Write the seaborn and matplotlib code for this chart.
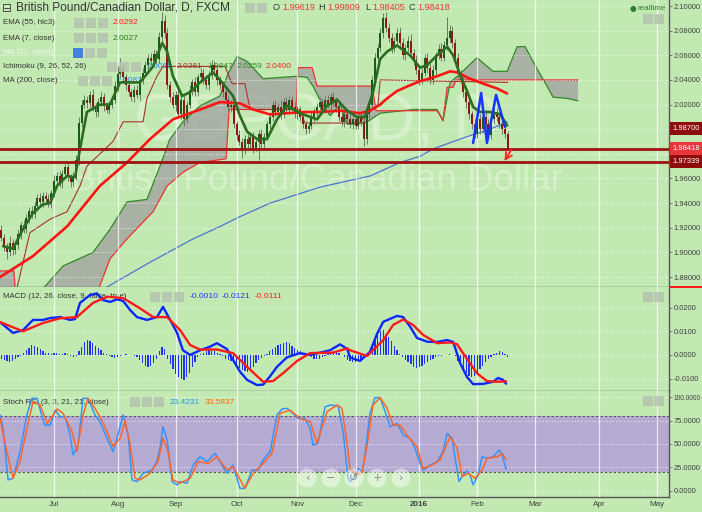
import numpy as np
import pandas as pd
import seaborn as sns
import matplotlib.pyplot as plt
from matplotlib.patches import Rectangle, Circle
from matplotlib.transforms import IdentityTransform

# ---------------- data ----------------
# daily GBP/CAD candles on the business-day axis, bar 3 (4 Jun 2015) .. bar 186 (16 Feb 2016)
first_bar = 3
first_open = 1.918
closes = [
    1.912, 1.905, 1.900, 1.908, 1.902, 1.906, 1.915, 1.922, 1.919, 1.928,
    1.934, 1.931, 1.938, 1.944, 1.941, 1.946, 1.943, 1.940, 1.948, 1.958,
    1.962, 1.956, 1.964, 1.969, 1.961, 1.957, 1.962, 1.975, 2.005, 2.020,
    2.024, 2.021, 2.028, 2.018, 2.014, 2.022, 2.026, 2.019, 2.016, 2.020,
    2.024, 2.035, 2.045, 2.050, 2.042, 2.036, 2.030, 2.026, 2.032, 2.028,
    2.040, 2.046, 2.052, 2.058, 2.055, 2.061, 2.057, 2.075, 2.088, 2.078,
    2.036, 2.026, 2.020, 2.028, 2.012, 2.024, 2.008, 2.020, 2.032, 2.038,
    2.030, 2.042, 2.046, 2.040, 2.036, 2.044, 2.052, 2.048, 2.040, 2.036,
    2.030, 2.024, 2.018, 2.020, 2.004, 1.995, 1.990, 1.983, 1.992, 1.988,
    1.994, 1.985, 1.990, 1.996, 1.988, 1.994, 2.004, 2.010, 2.020, 2.014,
    2.018, 2.012, 2.022, 2.016, 2.024, 2.018, 2.012, 2.016, 2.010, 2.004,
    2.000, 2.003, 2.010, 2.014, 2.018, 2.022, 2.016, 2.024, 2.020, 2.026,
    2.022, 2.018, 2.010, 2.006, 2.012, 2.008, 2.004, 2.008, 2.003, 2.010,
    2.006, 1.992, 2.012, 2.020, 2.040, 2.058, 2.066, 2.078, 2.090, 2.082,
    2.074, 2.066, 2.072, 2.078, 2.070, 2.060, 2.066, 2.072, 2.062, 2.056,
    2.048, 2.040, 2.046, 2.058, 2.050, 2.040, 2.048, 2.060, 2.065, 2.058,
    2.068, 2.074, 2.080, 2.070, 2.058, 2.045, 2.040, 2.030, 2.022, 2.012,
    2.004, 1.996, 2.008, 2.000, 2.010, 2.004, 1.995, 2.008, 2.014, 2.010,
    2.004, 2.000, 1.99619, 1.98418,
]
# wick lengths above / below the body, in thousandths
upper_wick = [
    4, 3, 3, 5, 3, 3, 4, 3, 4, 3,
    3, 4, 3, 3, 4, 3, 3, 4, 3, 5,
    3, 4, 3, 3, 4, 3, 3, 4, 5, 4,
    4, 3, 3, 5, 3, 3, 4, 3, 3, 3,
    3, 4, 6, 8, 4, 3, 4, 3, 3, 4,
    3, 4, 3, 3, 4, 3, 3, 4, 7, 5,
    4, 3, 4, 3, 5, 3, 4, 3, 4, 3,
    4, 3, 4, 3, 4, 3, 4, 3, 4, 3,
    3, 4, 3, 4, 3, 3, 4, 3, 3, 4,
    3, 4, 3, 3, 4, 3, 3, 4, 3, 4,
    3, 6, 3, 4, 3, 3, 4, 3, 3, 4,
    3, 3, 4, 3, 3, 4, 3, 3, 4, 3,
    4, 3, 3, 4, 3, 3, 4, 3, 3, 4,
    3, 4, 3, 4, 3, 4, 3, 4, 4, 5,
    4, 4, 3, 4, 5, 4, 3, 4, 5, 3,
    4, 3, 4, 3, 4, 3, 4, 3, 4, 5,
    4, 17, 5, 4, 3, 4, 3, 4, 3, 4,
    3, 4, 3, 4, 3, 5, 4, 3, 4, 3,
    4, 3, 1.9, 2,
]
lower_wick = [
    3, 4, 5, 3, 4, 3, 3, 4, 3, 3,
    4, 3, 3, 4, 3, 4, 3, 3, 4, 3,
    3, 3, 4, 3, 3, 4, 3, 3, 4, 3,
    3, 4, 3, 3, 4, 3, 3, 4, 3, 4,
    3, 3, 4, 3, 3, 4, 3, 3, 4, 3,
    4, 3, 3, 4, 3, 3, 4, 3, 3, 4,
    3, 4, 3, 5, 3, 4, 5, 3, 3, 4,
    3, 3, 4, 3, 3, 4, 3, 3, 4, 3,
    4, 3, 3, 4, 3, 4, 3, 6, 3, 4,
    3, 4, 3, 15, 4, 3, 3, 4, 3, 3,
    3, 4, 3, 3, 4, 3, 3, 4, 3, 3,
    4, 3, 3, 4, 3, 3, 4, 3, 3, 4,
    3, 4, 3, 3, 4, 3, 3, 4, 3, 3,
    3, 6, 4, 3, 3, 4, 3, 3, 4, 3,
    3, 4, 3, 3, 4, 3, 4, 3, 3, 4,
    3, 4, 3, 3, 4, 3, 3, 4, 3, 3,
    3, 4, 3, 4, 3, 4, 3, 4, 5, 4,
    4, 3, 3, 4, 3, 4, 3, 3, 4, 3,
    3, 4, 3, 0.13,
]

# overlays (bar position, value)
ema55_x = [2.5, 14.4, 26.7, 38.6, 48.4, 56.7, 65.0, 74.8, 82.0, 89.2, 94.0, 100.1, 106.2, 113.5,
           118.2, 125.4, 132.6, 136.2, 139.9, 142.4, 146.0, 150.0, 154.3, 160.5, 165.2, 168.1,
           171.3, 177.1, 182.2, 185.8]
ema55_y = [1.880, 1.897, 1.921, 1.954, 1.973, 1.992, 2.008, 2.016, 2.022, 2.021, 2.016, 2.012,
           2.013, 2.014, 2.014, 2.015, 2.013, 2.015, 2.020, 2.025, 2.031, 2.035, 2.039, 2.043,
           2.047, 2.046, 2.042, 2.037, 2.033, 2.029]

ema7_x = [3.6, 7.2, 10.8, 14.4, 18.0, 20.6, 23.1, 26.7, 29.6, 31.4, 33.9, 38.6, 42.2, 45.9, 49.5,
          53.1, 57.8, 61.1, 62.9, 65.0, 68.3, 71.2, 74.8, 79.5, 82.0, 86.7, 89.2, 91.8, 95.4, 99.0,
          102.6, 106.2, 110.9, 117.1, 120.7, 124.3, 128.0, 131.5, 134.4, 137.3, 139.9, 142.4,
          146.0, 150.7, 154.3, 156.9, 160.5, 164.1, 166.3, 168.8, 171.3, 173.5, 176.0, 179.6,
          183.3, 185.8]
ema7_y = [1.905, 1.903, 1.919, 1.932, 1.939, 1.940, 1.954, 1.962, 1.961, 1.984, 2.014, 2.020,
          2.020, 2.038, 2.038, 2.038, 2.051, 2.070, 2.063, 2.043, 2.027, 2.030, 2.038, 2.046,
          2.040, 2.027, 2.011, 1.998, 1.992, 1.992, 2.008, 2.019, 2.013, 2.008, 2.019, 2.024,
          2.015, 2.010, 2.010, 2.030, 2.057, 2.063, 2.068, 2.060, 2.050, 2.052, 2.060, 2.067,
          2.060, 2.044, 2.031, 2.018, 2.014, 2.014, 2.012, 2.003]

ma200_x = [39.7, 56.7, 72.3, 82.0, 89.2, 100.1, 118.2, 136.2, 147.1, 154.3, 159.0, 171.3, 178.5, 185.8]
ma200_y = [1.870, 1.892, 1.911, 1.921, 1.929, 1.940, 1.953, 1.962, 1.973, 1.978, 1.984, 1.994,
           1.999, 2.006]

span_a_x = [2.5, 17.0, 25.3, 36.1, 42.3, 48.4, 55.6, 60.3, 63.9, 68.6, 74.8, 82.0, 84.9, 88.2,
            91.8, 97.6, 103.7, 109.9, 113.5, 115.6, 119.3, 121.8, 125.4, 128.0, 131.5, 135.2,
            139.9, 151.8, 160.5, 162.6, 165.2, 168.8, 174.9, 180.7, 185.8, 189.4, 192.3, 196.6,
            200.2, 202.4, 207.5, 211.4]
span_a_y = [1.840, 1.868, 1.889, 1.900, 1.919, 1.941, 1.943, 1.970, 1.992, 2.006, 2.019, 2.027,
            2.045, 2.059, 2.055, 2.041, 2.042, 2.043, 2.042, 2.035, 2.019, 2.011, 2.020, 2.004,
            2.004, 2.006, 2.013, 2.016, 2.016, 2.007, 2.038, 2.045, 2.058, 2.047, 2.047, 2.067,
            2.067, 2.049, 2.035, 2.026, 2.025, 2.023]
span_b_x = [2.5, 7.5, 8.3, 36.8, 38.6, 42.3, 48.4, 57.8, 62.9, 68.6, 74.8, 84.2, 85.3, 109.5,
            110.2, 115.3, 117.1, 137.0, 138.4, 160.5, 162.6, 164.1, 166.3, 167.3, 211.4]
span_b_y = [1.885, 1.885, 1.860, 1.860, 1.873, 1.895, 1.911, 1.933, 1.954, 1.965, 1.973, 1.976,
            2.016, 2.016, 2.050, 2.050, 2.035, 2.035, 2.015, 2.015, 2.007, 2.034, 2.034, 2.040,
            2.040]
kijun_x = [8.0, 13.3, 20.6, 26.7, 31.4, 33.9, 43.3, 47.0, 54.2, 55.6, 59.2, 61.4, 83.8, 86.4,
           91.0, 92.9, 110.9, 112.7, 132.6, 134.4, 139.1, 139.9, 186.1]
kijun_y = [1.865, 1.916, 1.927, 1.933, 1.954, 1.970, 1.990, 2.006, 2.006, 2.025, 2.043, 2.051,
           2.051, 2.037, 2.037, 2.016, 2.016, 2.005, 2.005, 2.012, 2.020, 2.040, 2.038]

zigzag_x = [173.5, 176.4, 178.5, 181.8, 185.0]
zigzag_y = [1.9888, 2.0294, 1.9888, 2.0278, 2.0018]
support_levels = [1.98418, 1.97339]

# MACD (12, 26, 9)
macd_x = [2.5, 7.2, 10.8, 14.4, 18.0, 20.6, 24.2, 27.8, 29.6, 31.4, 35.0, 37.5, 39.7, 42.3, 44.8,
          47.0, 49.5, 52.0, 55.6, 59.2, 61.4, 63.9, 66.5, 68.6, 71.2, 74.8, 78.4, 80.9, 84.5,
          86.7, 89.2, 91.8, 95.4, 97.6, 100.1, 102.6, 106.2, 110.9, 114.6, 118.2, 121.8, 125.4,
          128.0, 129.0, 132.6, 136.2, 138.8, 141.0, 146.0, 148.2, 150.7, 153.2, 156.9, 160.5,
          164.1, 166.3, 168.8, 171.3, 173.5, 177.1, 180.7, 182.5, 184.3, 185.4]
macd_y = [0.0139, 0.0093, 0.0105, 0.0148, 0.0148, 0.0156, 0.0160, 0.0148, 0.0152, 0.0220, 0.0253,
          0.0260, 0.0232, 0.0224, 0.0235, 0.0228, 0.0190, 0.0160, 0.0148, 0.0160, 0.0203, 0.0150,
          0.0093, 0.0020, 0.0000, 0.0020, 0.0035, 0.0050, 0.0025, -0.0020, -0.0070, -0.0105,
          -0.0127, -0.0125, -0.0090, -0.0050, -0.0010, 0.0008, 0.0000, 0.0010, 0.0020, 0.0045,
          0.0025, -0.0010, -0.0025, 0.0013, 0.0090, 0.0140, 0.0165, 0.0160, 0.0120, 0.0072,
          0.0056, 0.0055, 0.0063, 0.0055, -0.0034, -0.0093, -0.0123, -0.0122, -0.0113, -0.0097,
          -0.0105, -0.0121]
signal_x = [2.5, 10.8, 18.0, 24.2, 30.3, 36.1, 41.2, 47.0, 53.1, 57.8, 62.9, 67.6, 71.2, 74.8,
            80.9, 86.7, 91.8, 97.6, 101.2, 104.8, 109.9, 114.6, 122.9, 128.0, 129.0, 135.2,
            141.0, 144.6, 148.2, 151.8, 155.4, 160.5, 165.2, 167.7, 171.3, 174.9, 178.5, 182.2,
            185.4]
signal_y = [0.0139, 0.0100, 0.0135, 0.0155, 0.0160, 0.0220, 0.0246, 0.0240, 0.0197, 0.0160,
            0.0160, 0.0105, 0.0042, 0.0023, 0.0023, 0.0008, -0.0050, -0.0113, -0.0110, -0.0077,
            -0.0025, 0.0008, 0.0010, 0.0028, 0.0020, -0.0004, 0.0063, 0.0127, 0.0150, 0.0127,
            0.0085, 0.0050, 0.0053, 0.0045, -0.0017, -0.0077, -0.0110, -0.0113, -0.0111]
# histogram per candle, in units of 0.0001
macd_hist = [
    -15, -20, -25, -28, -25, -18, -10, -3, 10, 20,
    30, 42, 40, 35, 25, 15, 10, 8, 5, 8,
    10, 6, 3, 8, 5, -5, -8, -5, 15, 35,
    55, 63, 60, 50, 40, 30, 20, 10, 5, -5,
    -10, -12, -8, -3, 2, 3, 1, -2, -5, -10,
    -20, -35, -45, -50, -45, -35, -15, 15, 35, 25,
    -15, -40, -60, -80, -95, -100, -105, -95, -75, -50,
    -30, -10, 5, 10, 15, 20, 18, 15, 10, 5,
    -5, -15, -20, -25, -35, -45, -55, -62, -68, -70,
    -62, -50, -35, -20, -12, -5, 5, 15, 25, 35,
    42, 48, 52, 55, 50, 40, 30, 22, 15, 10,
    5, 0, -10, -15, -18, -15, -10, -5, 5, 10,
    15, 18, 10, 0, -10, -20, -25, -28, -30, -25,
    -20, -15, -5, 10, 35, 65, 90, 100, 105, 90,
    75, 60, 40, 20, 5, -10, -20, -30, -40, -50,
    -55, -52, -45, -38, -30, -22, -15, -10, -6, -3,
    0, 2, 3, 2, -5, -25, -45, -60, -75, -90,
    -93, -88, -75, -60, -45, -30, -18, -8, 5, 10,
    15, 12, 6, -10,
]

# Stoch RSI (3, 3, 21, 21)
stoch_k_x = [2.5, 3.6, 5.4, 7.2, 9.7, 12.2, 14.0, 15.9, 17.7, 18.7, 20.6, 22.4, 24.2, 26.0, 27.8,
             28.9, 30.7, 32.5, 34.3, 36.8, 38.6, 41.2, 43.3, 45.1, 47.0, 48.8, 50.2, 52.0, 54.2,
             57.4, 59.2, 60.3, 61.4, 62.9, 64.7, 66.5, 67.6, 70.1, 72.3, 74.8, 77.3, 80.2, 82.7,
             84.5, 86.7, 89.2, 91.0, 93.6, 95.8, 97.6, 100.1, 102.6, 104.4, 106.2, 108.4, 110.2,
             112.7, 114.6, 115.6, 117.4, 120.0, 121.8, 124.7, 126.5, 128.3, 129.0, 130.8, 131.9,
             133.4, 134.4, 136.2, 138.0, 139.9, 141.7, 143.5, 146.0, 148.2, 150.7, 152.5, 154.3,
             155.4, 158.0, 160.5, 162.6, 164.1, 165.9, 167.0, 168.4, 169.9, 171.3, 172.4, 173.5,
             175.3, 176.7, 178.5, 180.7, 182.9, 184.0, 185.4]
stoch_k_y = [81, 66.5, 11.8, 13.5, 41.8, 80.9, 98.6, 98.6, 79, 70, 70, 86, 79, 79, 59.6, 38.3, 49,
             98.6, 98.6, 81, 73.8, 56, 41.8, 59.6, 81, 59.6, 11.8, 10, 18.8, 22.3, 31.2, 45.4,
             68.4, 54.2, 10, 6.5, 10, 8.3, 27.7, 36.5, 31.2, 40.1, 27.7, 18.8, 27.7, 2.8, 2.8,
             22.3, 22.3, 33, 41.8, 81, 87.2, 88, 82.6, 77.3, 77.3, 66.5, 49, 50.7, 89.6, 91.4,
             90.7, 63, 13.5, 10, 15.3, 24, 20.5, 38.3, 82.6, 99.3, 99.3, 84.4, 68.4, 72, 59.6, 56,
             45.4, 29.4, 22.3, 27.7, 31.2, 41.8, 61.3, 56, 34.8, 10, 17, 21.3, 17, 6.5, 17, 36.5,
             34.8, 36.5, 43.6, 38.3, 23.4]
stoch_d_x = [2.5, 5.0, 7.2, 9.7, 12.2, 14.4, 17.0, 19.5, 21.3, 23.1, 25.3, 28.5, 30.3, 32.5, 34.3,
             36.1, 38.6, 41.2, 43.3, 45.9, 47.7, 49.5, 51.3, 53.1, 56.7, 59.6, 61.4, 63.2, 65.0,
             67.6, 71.2, 74.1, 77.7, 80.9, 84.5, 86.7, 91.0, 94.0, 97.6, 100.8, 103.7, 107.3,
             110.9, 114.6, 117.1, 120.7, 124.3, 126.1, 128.3, 129.0, 131.5, 133.4, 135.2, 137.3,
             139.9, 142.4, 144.6, 147.1, 150.0, 153.2, 155.4, 158.7, 161.5, 165.2, 167.7, 169.5,
             171.7, 174.2, 176.7, 178.5, 182.2, 184.0, 185.4]
stoch_d_y = [77.3, 41.8, 13.5, 31.2, 66.5, 95, 91.4, 72, 79, 87.2, 82.6, 63, 41.8, 81, 98.6, 91.4,
             79, 63, 47.2, 56, 75.5, 49, 13.5, 11.8, 18.8, 31.2, 56, 41.8, 11.8, 8.3, 13.5, 31.2,
             29.4, 36.5, 22.3, 26, 2.8, 18.8, 29.4, 40.1, 82.6, 86, 77.3, 73.8, 50.7, 84.4, 91.4,
             88, 41.8, 24, 17, 20.5, 49, 91.4, 99.3, 88, 70, 70, 57.8, 47.2, 24, 27.7, 33, 57.8,
             45.4, 15.3, 18.8, 13.5, 22.3, 34.8, 36.5, 40.1, 33.6]

month_labels = ["Jul", "Aug", "Sep", "Oct", "Nov", "Dec", "2016", "Feb", "Mar", "Apr", "May"]
price_ticks = [1.88, 1.90, 1.92, 1.94, 1.96, 1.98, 2.00, 2.02, 2.04, 2.06, 2.08, 2.10]
hidden_price_ticks = [1.98, 2.00]   # covered by the price tags on the scale
macd_ticks = [-0.01, 0.0, 0.01, 0.02]
stoch_ticks = [0, 25, 50, 75, 100]

# ---------------- style ----------------
BG = "#c3e9b3"
sns.set_theme(style="white", rc={"axes.facecolor": BG, "figure.facecolor": BG})
plt.rcParams["font.family"] = ["Liberation Sans", "DejaVu Sans"]

W, H = 702, 512
fig = plt.figure(figsize=(W / 100, H / 100), dpi=100)

def fx(px):
    return px / W

def fy(py):
    return 1 - py / H

ax_main = fig.add_axes([0, fy(287), fx(669), 287 / H])
ax_macd = fig.add_axes([0, fy(391), fx(669), 104 / H])
ax_st = fig.add_axes([0, fy(497), fx(669), 106 / H])

# month start positions on the business-day axis
bdays = pd.bdate_range("2015-06-01", "2016-05-31")
pos = pd.Series(np.arange(len(bdays)), index=bdays)
month_pos = pos.groupby(pos.index.to_period("M")).first().values[1:]

for ax in (ax_main, ax_macd, ax_st):
    ax.set_xlim(2.48, 244.3)
    ax.set_xticks(month_pos)
    ax.yaxis.tick_right()
    ax.tick_params(axis="y", length=2.2, width=0.6, color="#666666", pad=1.2,
                   labelsize=5.4, labelcolor="#404040", right=True, left=False)
    ax.tick_params(axis="x", length=0, labelbottom=False)
    for s in ("top", "left"):
        ax.spines[s].set_visible(False)
    for s in ("right", "bottom"):
        ax.spines[s].set_color("#555555")
        ax.spines[s].set_linewidth(1.0)
    ax.set_axisbelow(False)
    ax.grid(axis="x", color="white", lw=0.9, alpha=0.75, zorder=1.5)
    ax.grid(axis="y", color="white", lw=0.7, ls=(0, (1, 2)), alpha=0.8)

# ---------------- main price panel ----------------
ax = ax_main
ax.set_ylim(1.8719, 2.1049)
ax.set_yticks(price_ticks)
ax.set_yticklabels(["" if v in hidden_price_ticks else f"{v:.5f}" for v in price_ticks])

ax.text(fx(333), 0.57, "GBPCAD, D", transform=ax.transAxes, ha="center", va="center",
        fontsize=48, color="white", alpha=0.3, zorder=0.5)
ax.text(fx(333), 1 - 181 / 287, "British Pound/Canadian Dollar", transform=ax.transAxes,
        ha="center", va="center", fontsize=26.5, color="white", alpha=0.3, zorder=0.5)

# Ichimoku cloud
ax.fill(np.r_[span_a_x, span_b_x[::-1]], np.r_[span_a_y, span_b_y[::-1]],
        color="#9f9f9f", alpha=0.75, lw=0, zorder=1.8)

def line(a, xs, ys, color, lw, z, **kw):
    sns.lineplot(x=xs, y=ys, ax=a, color=color, linewidth=lw, estimator=None,
                 sort=False, zorder=z, legend=False, **kw)

line(ax, span_a_x, span_a_y, "#2f8a24", 0.9, 2.2)
line(ax, span_b_x, span_b_y, "#f03030", 0.9, 2.2)
line(ax, kijun_x, kijun_y, "#a8332b", 0.8, 2.3)
line(ax, ma200_x, ma200_y, "#4a74d6", 0.9, 2.4)

# candles
xb = np.arange(first_bar, first_bar + len(closes))
c = np.array(closes)
o = np.r_[first_open, c[:-1]]
hi = np.maximum(o, c) + np.array(upper_wick) / 1000
lo = np.minimum(o, c) - np.array(lower_wick) / 1000
up = c >= o
ax.vlines(xb, lo, hi, color="#677a66", lw=0.7, zorder=3)
ax.bar(xb, np.maximum(np.abs(c - o), 0.0007), bottom=np.minimum(o, c), width=0.72,
       color=np.where(up, "#1c5a1c", "#8e1616"), lw=0, zorder=4)

line(ax, ema55_x, ema55_y, "#ff1414", 1.9, 5)
line(ax, ema7_x, ema7_y, "#2b6e1f", 1.9, 5.1)

for lvl in support_levels:
    ax.axhline(lvl, color="#9e1212", lw=2.0, zorder=6)

line(ax, zigzag_x, zigzag_y, "#1535ff", 1.8, 6.5)
ax.annotate("", xy=(184.3, 1.9722), xytext=(188.0, 1.9858),
            arrowprops=dict(arrowstyle="->", color="#ff2020", lw=1.3), zorder=7)

def price_tag(a, y, text, fc):
    a.annotate(text, xy=(1.0, y), xycoords=("axes fraction", "data"), xytext=(2.6, 0),
               textcoords="offset points", ha="left", va="center", fontsize=5.4,
               color="white", annotation_clip=False, zorder=10,
               bbox=dict(boxstyle="square,pad=0.4", fc=fc, ec="none"))

price_tag(ax, 2.0005, "1.98700", "#8f0c0c")
price_tag(ax, 1.98418, "1.98418", "#e8363a")
price_tag(ax, 1.97339, "1.97339", "#8f0c0c")

# legend / header texts
def ftext(a, px, py, s, size, color, **kw):
    a.text(fx(px), fy(py), s, transform=fig.transFigure, fontsize=size, color=color,
           ha="left", va="center", **kw)

def icons(a, xs, py, first_color="#b6c3b1"):
    for k, px in enumerate(xs):
        a.add_patch(Rectangle((fx(px), fy(py + 5)), fx(10), 10 / H, transform=fig.transFigure,
                              fc=first_color if k == 0 else "#b6c3b1", ec="none",
                              alpha=0.85, zorder=8))

ftext(ax, 2, 8, "\u229f", 8.6, "#404040", zorder=9, family=["DejaVu Sans"])
ftext(ax, 16, 8, "British Pound/Canadian Dollar, D, FXCM", 8.6, "#333333", zorder=9)
icons(ax, [245, 257], 8)
ftext(ax, 273, 8, "O", 6.6, "#333333", zorder=9)
ftext(ax, 282, 8, "1.99619", 6.6, "#e53935", zorder=9)
ftext(ax, 318, 8, "H", 6.6, "#333333", zorder=9)
ftext(ax, 327, 8, "1.99809", 6.6, "#e53935", zorder=9)
ftext(ax, 365, 8, "L", 6.6, "#333333", zorder=9)
ftext(ax, 372, 8, "1.98405", 6.6, "#e53935", zorder=9)
ftext(ax, 408, 8, "C", 6.6, "#333333", zorder=9)
ftext(ax, 417, 8, "1.98418", 6.6, "#e53935", zorder=9)
ftext(ax, 630, 8, "\u25cf", 5.5, "#2e7d32", zorder=9, family=["DejaVu Sans"])
ftext(ax, 638, 8, "realtime", 5.8, "#2e7d32", zorder=9)
icons(ax, [643, 654], 19)

ftext(ax, 3, 23, "EMA (55, hlc3)", 5.7, "#333333", zorder=9)
icons(ax, [74, 86, 98], 23)
ftext(ax, 113, 23, "2.0292", 6.0, "#ff1a1a", zorder=9)
ftext(ax, 3, 38, "EMA (7, close)", 5.7, "#333333", zorder=9)
icons(ax, [74, 86, 98], 38)
ftext(ax, 113, 38, "2.0027", 6.0, "#2e7d1f", zorder=9)
ftext(ax, 3, 53, "MA (21, close)", 5.7, "#f2f7ee", zorder=9)
icons(ax, [73, 85, 97], 53, first_color="#2f6fe0")
ftext(ax, 3, 67, "Ichimoku (9, 26, 52, 26)", 5.7, "#333333", zorder=9)
icons(ax, [107, 119, 131], 67)
ftext(ax, 147, 67, "2.0065", 6.0, "#1e90ff", zorder=2.9)
ftext(ax, 177, 67, "2.0381", 6.0, "#a8332b", zorder=2.9)
ftext(ax, 207, 67, "1.9847", 6.0, "#2f8a24", zorder=2.9)
ftext(ax, 237, 67, "2.0259", 6.0, "#2f8a24", zorder=2.9)
ftext(ax, 266, 67, "2.0400", 6.0, "#ff2020", zorder=2.9)
ftext(ax, 3, 81, "MA (200, close)", 5.7, "#333333", zorder=9)
icons(ax, [78, 90, 102], 81)
ftext(ax, 117, 81, "2.0087", 6.0, "#1e90ff", zorder=2.9)

# ---------------- MACD panel ----------------
ax = ax_macd
ax.set_ylim(-0.0152, 0.0287)
ax.set_yticks(macd_ticks)
ax.set_yticklabels([f"{v:.4f}" for v in macd_ticks])
ax.bar(xb, np.array(macd_hist) / 10000, width=0.45, color="#1f33ff", lw=0, zorder=3)
line(ax, macd_x, macd_y, "#0a28ff", 1.7, 4)
line(ax, signal_x, signal_y, "#ff1a1a", 1.7, 4.1)
ftext(ax, 3, 297, "MACD (12, 26, close, 9, false, true)", 5.7, "#333333", zorder=1)
icons(ax, [150, 162, 174], 297)
ftext(ax, 190, 297, "-0.0010", 6.0, "#1f33ff", zorder=9)
ftext(ax, 222, 297, "-0.0121", 6.0, "#1f33ff", zorder=9)
ftext(ax, 255, 297, "-0.0111", 6.0, "#ff1a1a", zorder=9)
icons(ax, [643, 654], 297)

# ---------------- Stoch RSI panel ----------------
ax = ax_st
ax.set_ylim(-6.4, 106.4)
ax.set_yticks(stoch_ticks)
ax.set_yticklabels([f"{v:.4f}" for v in stoch_ticks])
for t in ax.get_yticklabels():
    if t.get_text().startswith("100"):
        t.set_fontsize(4.7)
ax.axhspan(20, 80, color="#b5aad2", lw=0, zorder=1)
ax.axhline(20, color="#555555", lw=0.8, ls=(0, (2, 2)), zorder=1.6)
ax.axhline(80, color="#555555", lw=0.8, ls=(0, (2, 2)), zorder=1.6)
line(ax, stoch_k_x, stoch_k_y, "#3393ff", 1.1, 4)
line(ax, stoch_d_x, stoch_d_y, "#ff6428", 1.1, 4.1)
ftext(ax, 3, 402, "Stoch RSI (3, 3, 21, 21, close)", 5.7, "#333333", zorder=1)
icons(ax, [130, 142, 154], 402)
ftext(ax, 170, 402, "23.4231", 6.0, "#2196f3", zorder=9)
ftext(ax, 205, 402, "33.5837", 6.0, "#ff6d00", zorder=9)
icons(ax, [643, 654], 401)

ax.tick_params(axis="x", labelbottom=True, labelsize=5.8, labelcolor="#404040", pad=3)
ax.set_xticklabels(month_labels)
for t in ax.get_xticklabels():
    if t.get_text() == "2016":
        t.set_fontweight("bold")

# navigation buttons
for px, glyph in zip([307, 331, 354, 377, 401], ["\u2039", "\u2212", "\u21ba", "+", "\u203a"]):
    fig.add_artist(Circle((px, H - 478), 9.5, transform=IdentityTransform(),
                          fc="white", ec="none", alpha=0.45, zorder=20))
    fig.text(fx(px), fy(478), glyph, ha="center", va="center", fontsize=8,
             color="#8a8a8a", zorder=21, family=["DejaVu Sans"])

# red edge of an off-scale price tag under the main panel
fig.add_artist(Rectangle((fx(669), fy(288)), fx(33), 2 / H, transform=fig.transFigure,
                         fc="#ff1a1a", ec="none", zorder=20))

fig.savefig("out.png", dpi=100)
plt.close(fig)
